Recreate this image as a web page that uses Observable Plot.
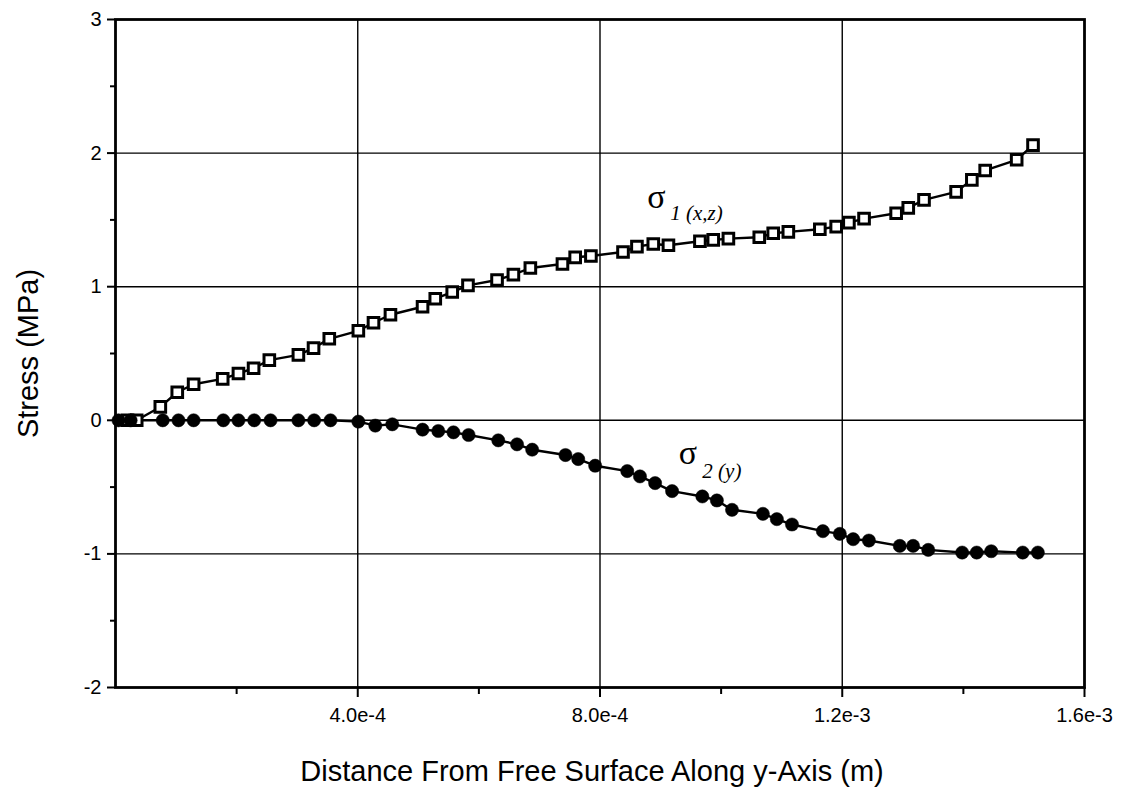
<!DOCTYPE html>
<html><head><meta charset="utf-8">
<script src="https://cdn.jsdelivr.net/npm/d3@7"></script>
<script src="https://cdn.jsdelivr.net/npm/@observablehq/plot@0.6"></script>
<style>
html,body{margin:0;padding:0;background:#fff} #chart{width:1136px;height:796px}
</style>
</head><body><div id="chart"></div>
<script>
// sigma 1 (x,z) — open squares
const sigma1X = [2.0e-5, 3.5e-5, 7.4e-5, 1.02e-4, 1.29e-4, 1.77e-4, 2.03e-4, 2.28e-4, 2.54e-4, 3.02e-4, 3.27e-4, 3.53e-4, 4.01e-4, 4.26e-4, 4.54e-4, 5.07e-4, 5.28e-4, 5.56e-4, 5.82e-4, 6.30e-4, 6.57e-4, 6.85e-4, 7.38e-4, 7.59e-4, 7.85e-4, 8.38e-4, 8.61e-4, 8.88e-4, 9.13e-4, 9.65e-4, 9.87e-4, 1.012e-3, 1.063e-3, 1.086e-3, 1.111e-3, 1.163e-3, 1.190e-3, 1.211e-3, 1.236e-3, 1.289e-3, 1.309e-3, 1.335e-3, 1.388e-3, 1.414e-3, 1.436e-3, 1.488e-3, 1.515e-3];
const sigma1Y = [0, 0, 0.10, 0.21, 0.27, 0.31, 0.35, 0.39, 0.45, 0.49, 0.54, 0.61, 0.67, 0.73, 0.79, 0.85, 0.91, 0.96, 1.01, 1.05, 1.09, 1.14, 1.17, 1.22, 1.23, 1.26, 1.30, 1.32, 1.31, 1.34, 1.35, 1.36, 1.37, 1.40, 1.41, 1.43, 1.45, 1.48, 1.51, 1.55, 1.59, 1.65, 1.71, 1.80, 1.87, 1.95, 2.06];
// sigma 2 (y) — filled circles
const sigma2X = [5e-6, 2.5e-5, 7.8e-5, 1.04e-4, 1.29e-4, 1.78e-4, 2.03e-4, 2.29e-4, 2.56e-4, 3.02e-4, 3.28e-4, 3.55e-4, 4.01e-4, 4.29e-4, 4.57e-4, 5.07e-4, 5.33e-4, 5.58e-4, 5.83e-4, 6.32e-4, 6.63e-4, 6.88e-4, 7.43e-4, 7.64e-4, 7.92e-4, 8.45e-4, 8.66e-4, 8.91e-4, 9.19e-4, 9.69e-4, 9.93e-4, 1.018e-3, 1.069e-3, 1.092e-3, 1.117e-3, 1.168e-3, 1.196e-3, 1.218e-3, 1.244e-3, 1.295e-3, 1.317e-3, 1.342e-3, 1.398e-3, 1.422e-3, 1.446e-3, 1.498e-3, 1.523e-3];
const sigma2Y = [0, 0, 0, 0, 0, 0, 0, 0, 0, 0, 0, 0, -0.01, -0.04, -0.03, -0.07, -0.08, -0.09, -0.11, -0.15, -0.18, -0.22, -0.26, -0.29, -0.34, -0.38, -0.42, -0.47, -0.53, -0.57, -0.60, -0.67, -0.70, -0.74, -0.78, -0.83, -0.85, -0.89, -0.90, -0.94, -0.94, -0.97, -0.99, -0.99, -0.98, -0.99, -0.99];

const xTicks = [4e-4, 8e-4, 1.2e-3, 1.6e-3];
const xTickLabels = ["4.0e-4", "8.0e-4", "1.2e-3", "1.6e-3"];
const xMinorTicks = [2e-4, 6e-4, 1.0e-3, 1.4e-3];
const yTicks = [-2, -1, 0, 1, 2, 3];
const yMinorTicks = [-1.5, -0.5, 0.5, 1.5, 2.5];
const xGrid = [4e-4, 8e-4, 1.2e-3];
const yGrid = [-1, 0, 1, 2];

const labelSigma = ["σ", "σ"];
const labelSigmaX = [8.78e-4, 9.30e-4];
const labelSigmaY = [1.59, -0.33];
const labelSub = ["1 (x,z)", "2 (y)"];
const labelSubX = [9.16e-4, 9.69e-4];
const labelSubY = [1.50, -0.43];

const xTitle = "Distance From Free Surface Along y-Axis (m)";
const yTitle = "Stress (MPa)";

const s1 = sigma1X.map((x, i) => ({x, y: sigma1Y[i]}));
const s2 = sigma2X.map((x, i) => ({x, y: sigma2Y[i]}));
const sig = labelSigma.map((t, i) => ({t, x: labelSigmaX[i], y: labelSigmaY[i]}));
const sub = labelSub.map((t, i) => ({t, x: labelSubX[i], y: labelSubY[i]}));
const xLabelMap = new Map(xTicks.map((d, i) => [d, xTickLabels[i]]));

const gridStyle = {stroke: "#000", strokeOpacity: 1, strokeWidth: 1.4};
const font = "'Liberation Sans', Arial, sans-serif";

const chart = Plot.plot({
  width: 1136, height: 796,
  marginLeft: 115, marginRight: 52, marginTop: 19, marginBottom: 109,
  x: {domain: [0, 1.6e-3]},
  y: {domain: [-2, 3]},
  style: {fontFamily: font, fontSize: "20px", color: "#000", background: "#fff", overflow: "visible"},
  marks: [
    Plot.gridX(xGrid, gridStyle),
    Plot.gridY(yGrid, gridStyle),
    Plot.frame({stroke: "#000", strokeWidth: 2.8}),
    Plot.axisX(xTicks, {tickSize: 10, tickPadding: 10, strokeWidth: 2, tickFormat: d => xLabelMap.get(d), label: null}),
    Plot.axisX(xMinorTicks, {tickSize: 7, strokeWidth: 2, tickFormat: () => "", label: null}),
    Plot.axisY(yTicks, {tickSize: 8, tickPadding: 6, strokeWidth: 2, tickFormat: d => String(d), label: null}),
    Plot.axisY(yMinorTicks, {tickSize: 5, strokeWidth: 2, tickFormat: () => "", label: null}),
    Plot.line(s1, {x: "x", y: "y", stroke: "#000", strokeWidth: 2.4}),
    Plot.line(s2, {x: "x", y: "y", stroke: "#000", strokeWidth: 2.4}),
    Plot.dot(s1, {x: "x", y: "y", symbol: "square", r: 6, fill: "#fff", stroke: "#000", strokeWidth: 3}),
    Plot.dot(s2, {x: "x", y: "y", symbol: "circle", r: 6.6, fill: "#000", stroke: "#000", strokeWidth: 0.5}),
    Plot.text(sig, {x: "x", y: "y", text: "t", textAnchor: "start", lineAnchor: "bottom", fontSize: 34, fontFamily: "'Liberation Serif', 'DejaVu Serif', serif"}),
    Plot.text(sub, {x: "x", y: "y", text: "t", textAnchor: "start", lineAnchor: "bottom", fontSize: 21, fontStyle: "italic", fontFamily: "'Liberation Serif', 'DejaVu Serif', serif"}),
    Plot.text([xTitle], {frameAnchor: "bottom", dx: -8, dy: 93, textAnchor: "middle", lineAnchor: "bottom", fontSize: 29, text: d => d}),
    Plot.text([yTitle], {frameAnchor: "left", dx: -87, rotate: -90, textAnchor: "middle", lineAnchor: "middle", fontSize: 29, text: d => d})
  ]
});
document.getElementById("chart").appendChild(chart);
</script>
</body></html>
